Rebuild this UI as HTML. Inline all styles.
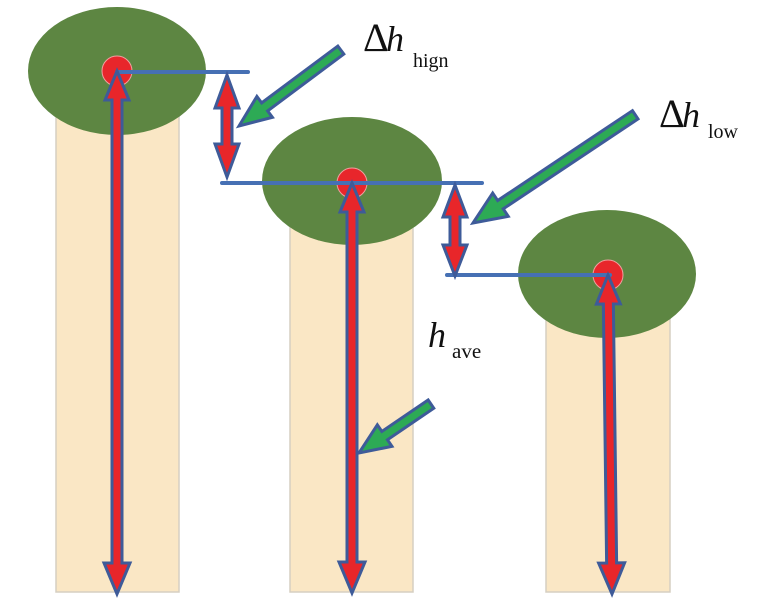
<!DOCTYPE html>
<html><head><meta charset="utf-8"><style>
html,body{margin:0;padding:0;background:#fff;}
svg{display:block;}
text{font-family:"Liberation Serif",serif;fill:#111;}
</style></head><body>
<svg width="764" height="598" viewBox="0 0 764 598" xmlns="http://www.w3.org/2000/svg">
<!-- trunks -->
<g fill="#FAE7C5" stroke="#D6CFC2" stroke-width="1.5">
<rect x="56" y="110" width="123" height="482"/>
<rect x="290" y="220" width="123" height="372"/>
<rect x="546" y="310" width="124" height="282"/>
</g>
<!-- crowns -->
<g fill="#5D8642">
<ellipse cx="117" cy="71" rx="89" ry="64"/>
<ellipse cx="352" cy="181" rx="90" ry="64"/>
<ellipse cx="607" cy="274" rx="89" ry="64"/>
</g>
<!-- red dots -->
<g fill="#E8262B" stroke="#EFA0A0" stroke-width="1">
<circle cx="117" cy="71" r="15"/>
<circle cx="352" cy="183" r="15"/>
<circle cx="608" cy="275" r="15"/>
</g>
<!-- blue lines -->
<g stroke="#4670B4" stroke-width="4" stroke-linecap="round">
<line x1="117" y1="72" x2="248" y2="72"/>
<line x1="222" y1="183" x2="482" y2="183"/>
<line x1="447" y1="275" x2="610" y2="275"/>
</g>
<!-- red arrows -->
<g fill="#E8262A" stroke="#3E5B99" stroke-width="3" stroke-linejoin="miter">
<polygon points="227,75 239,108 232,108 232,144 239,144 227,177 215,144 222,144 222,108 215,108"/>
<polygon points="455,185 467,217 460,217 460,245 467,245 455,276 443,245 450,245 450,217 443,217"/>
<polygon points="117,71 129,100 122,100 122,563 130,563 117,594 104,563 112,563 112,100 105,100"/>
<polygon points="352,183 364,212 357,212 357,562 365,562 352,593 339,562 347,562 347,212 340,212"/>
<g transform="rotate(-0.72 608 275)">
<polygon points="608,275 620,304 613,304 613,563 621,563 608,594 595,563 603,563 603,304 596,304"/>
</g>
</g>
<!-- green arrows -->
<g fill="#2DAA55" stroke="#3E5B99" stroke-width="3" stroke-linejoin="miter">
<g transform="translate(239,126) rotate(143.3)">
<polygon points="0,0 -32,13 -32,5 -127,5 -127,-5 -32,-5 -32,-13"/>
</g>
<g transform="translate(473,223) rotate(146.3)">
<polygon points="0,0 -33,14 -33,5 -195,5 -195,-5 -33,-5 -33,-14"/>
</g>
<g transform="translate(359,453) rotate(145.8)">
<polygon points="0,0 -31,13 -31,5 -87,5 -87,-5 -31,-5 -31,-13"/>
</g>
</g>
<!-- labels -->
<text x="363" y="51" font-size="40">Δ</text>
<text x="386" y="51" font-size="36" font-style="italic">h</text>
<text x="413" y="67" font-size="20">hign</text>

<text x="659" y="127" font-size="40">Δ</text>
<text x="682" y="127" font-size="36" font-style="italic">h</text>
<text x="708" y="138" font-size="20">low</text>

<text x="428" y="347" font-size="36" font-style="italic">h</text>
<text x="452" y="358" font-size="21">ave</text>
</svg>
</body></html>
